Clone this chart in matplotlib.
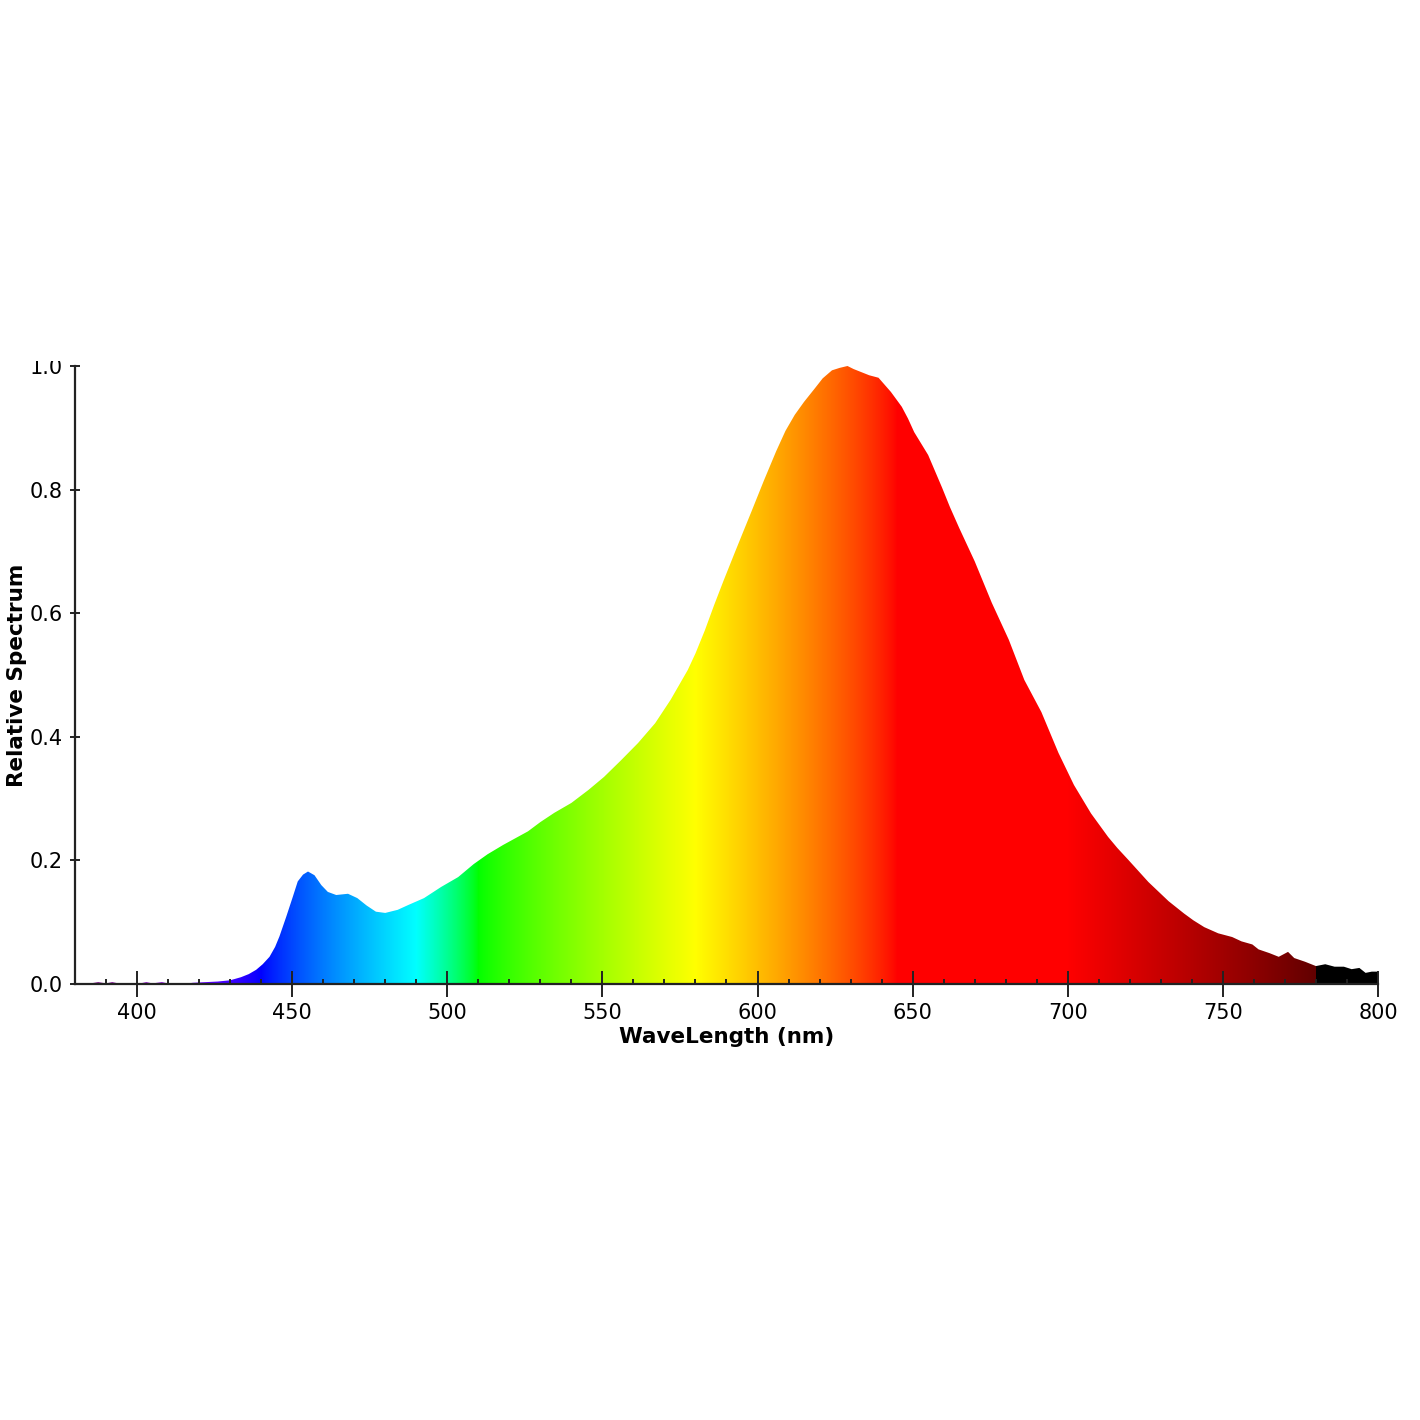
import numpy as np
import matplotlib.pyplot as plt
from matplotlib.ticker import MultipleLocator
from matplotlib.transforms import Bbox, TransformedBbox

## spectrum
wavelength = [380, 385, 387.5, 390, 392, 395, 400, 403, 405, 408, 410, 415, 418, 422, 426,
              430, 433.5, 436, 438.4, 440.5, 442.7, 444.5, 445.9, 448.1, 450.2, 451.8, 453.5,
              455.1, 457.2, 459.4, 461.5, 464.2, 468, 471, 474, 477, 480, 484, 487.5, 492.5,
              498, 503.5, 508.5, 513, 518, 522, 526, 530, 534.5, 540, 545.5, 550.5, 556,
              561.5, 567, 572, 577.5, 580, 583, 586, 589, 592.5, 595, 598, 602, 606, 609,
              612, 615, 618.5, 621, 624, 626.5, 629, 631, 633.5, 636, 639, 643, 646.5, 648.5,
              650.5, 655, 659.5, 662, 665, 670, 675.5, 681, 686, 691.5, 697, 702, 707.5, 713,
              716, 719.5, 726, 732.5, 737.5, 740.5, 744, 748.5, 753, 756, 759.5, 761.5, 765,
              768, 771, 773, 776.5, 780, 783, 786, 789, 791.5, 794, 796, 798, 800]
spectrum = [0.0, 0.001, 0.003, 0.001, 0.003, 0.0, 0.0, 0.003, 0.001, 0.003, 0.001, 0.0,
            0.002, 0.003, 0.004,
            0.006, 0.011, 0.016, 0.023, 0.032, 0.044, 0.06, 0.077, 0.109, 0.141, 0.166, 0.177,
            0.182, 0.176, 0.16, 0.149, 0.144, 0.146, 0.139, 0.127, 0.117, 0.115, 0.12, 0.128,
            0.139,
            0.157, 0.173, 0.194, 0.21, 0.225, 0.236, 0.247, 0.262, 0.277, 0.293, 0.314, 0.335,
            0.362, 0.39, 0.422, 0.46, 0.508, 0.535, 0.572, 0.613, 0.652, 0.696, 0.727, 0.764,
            0.814, 0.862, 0.895, 0.921, 0.942, 0.964, 0.98, 0.993, 0.997, 1.0, 0.995, 0.99,
            0.985, 0.981, 0.958, 0.934, 0.915,
            0.893, 0.856, 0.803, 0.772, 0.738, 0.684, 0.617, 0.557, 0.492, 0.44, 0.374, 0.322,
            0.276, 0.238,
            0.22, 0.201, 0.165, 0.134, 0.114, 0.103, 0.092, 0.082, 0.076, 0.069, 0.064, 0.056,
            0.05, 0.044, 0.052, 0.042, 0.036, 0.029,
            0.032, 0.028, 0.028, 0.024, 0.026, 0.018, 0.02, 0.02]

xticks_major = [400, 450, 500, 550, 600, 650, 700, 750, 800]
yticks = [0.0, 0.2, 0.4, 0.6, 0.8, 1.0]


def wl_to_rgb(w, gamma=0.8):
    # Bruton style wavelength -> colour
    if 380 <= w < 440:
        r, g, b = -(w - 440) / 60, 0.0, 1.0
    elif 440 <= w < 490:
        r, g, b = 0.0, (w - 440) / 50, 1.0
    elif 490 <= w < 510:
        r, g, b = 0.0, 1.0, -(w - 510) / 20
    elif 510 <= w < 580:
        r, g, b = (w - 510) / 70, 1.0, 0.0
    elif 580 <= w < 645:
        r, g, b = 1.0, -(w - 645) / 65, 0.0
    elif 645 <= w <= 780:
        r, g, b = 1.0, 0.0, 0.0
    else:
        r, g, b = 0.0, 0.0, 0.0
    if 380 <= w < 420:
        f = 0.3 + 0.7 * (w - 380) / 40
    elif 420 <= w <= 700:
        f = 1.0
    elif 700 < w <= 780:
        f = 0.3 + 0.7 * (780 - w) / 80
    else:
        f = 0.0
    return [(c * f) ** gamma for c in (r, g, b)]


fig = plt.figure(figsize=(14.2, 14.2), dpi=100)
ax = fig.add_axes([75 / 1420, 1 - 984 / 1420, 1303 / 1420, 618 / 1420])

poly = ax.fill_between(wavelength, 0, spectrum, facecolor='none', edgecolor='none')

wl_grid = np.arange(380, 800.01, 0.1)
img = np.array([[wl_to_rgb(w) for w in wl_grid]])
im = ax.imshow(img, extent=[380, 800, 0, 1], aspect='auto', origin='lower',
               interpolation='nearest', zorder=1)
im.set_clip_path(poly.get_paths()[0], transform=ax.transData)

ax.set_xlim(380, 800)
ax.set_ylim(0, 1.0)

for s in ['top', 'right']:
    ax.spines[s].set_visible(False)
for s in ['left', 'bottom']:
    ax.spines[s].set_color('#222222')
    ax.spines[s].set_linewidth(1.6)
    ax.spines[s].set_zorder(5)

ax.set_xticks(xticks_major)
ax.xaxis.set_minor_locator(MultipleLocator(10))
ax.set_yticks(yticks)
ax.set_yticklabels(['0.0', '0.2', '0.4', '0.6', '0.8', '1.0'])

ax.tick_params(axis='x', which='major', direction='inout', length=18.7, width=1.4,
               color='#222222', labelsize=15, pad=4)
ax.tick_params(axis='x', which='minor', direction='in', length=3.8, width=1.4,
               color='#222222')
ax.tick_params(axis='y', which='major', direction='inout', length=7.2, width=1.4,
               color='#222222', labelsize=15, pad=5)

ax.set_xlabel('WaveLength (nm)', fontsize=15.5, fontweight='bold', labelpad=3)
ax.set_ylabel('Relative Spectrum', fontsize=15.5, fontweight='bold', labelpad=2)

# top label is cut off in the original
fig.canvas.draw()
clip = TransformedBbox(Bbox([[0, 0], [1, 1 - 361 / 1420]]), fig.transFigure)
for lbl in ax.get_yticklabels():
    if lbl.get_text() == '1.0':
        lbl.set_clip_box(clip)
        lbl.set_clip_on(True)

fig.savefig('out.png', dpi=100)
